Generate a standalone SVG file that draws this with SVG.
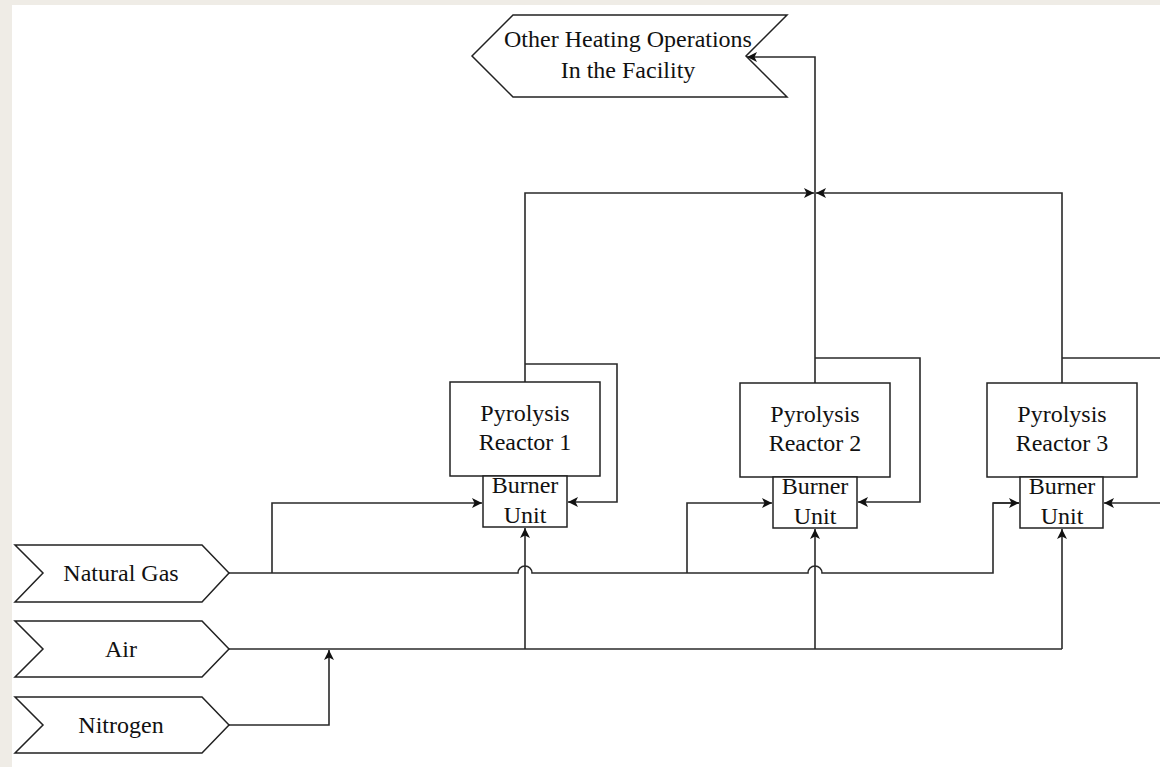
<svg xmlns="http://www.w3.org/2000/svg" width="1160" height="767" viewBox="0 0 1160 767">
<defs>
<marker id="arr" markerUnits="userSpaceOnUse" markerWidth="12" markerHeight="12" refX="10" refY="5" orient="auto">
<path d="M0,0 L10,5 L0,10 L2.5,5 z" fill="#111"/>
</marker>
<style>
.n{fill:#fff;stroke:#222;stroke-width:1.5}
.t{font-family:"Liberation Serif","Times New Roman",serif;font-size:24px;fill:#111;text-anchor:middle}
.c{fill:none;stroke:#2a2a2a;stroke-width:1.6}
.a{marker-end:url(#arr)}
</style>
</defs>
<rect x="0" y="0" width="1160" height="767" fill="#efece6"/>
<rect x="12" y="5" width="1148" height="762" fill="#fff"/>

<g id="connectors">
<path class="c" d="M229,573 H518 A7,7 0 0 1 532,573 H808 A7,7 0 0 1 822,573 H993 V503 H1019"/>
<path class="c a" d="M993,503 H1019"/>
<path class="c a" d="M272,573 V503 H482"/>
<path class="c a" d="M687,573 V503 H772"/>
<path class="c" d="M229,649 H1062"/>
<path class="c a" d="M525,649 V528"/>
<path class="c a" d="M815,649 V529"/>
<path class="c a" d="M1062,649 V529"/>
<path class="c a" d="M229,725 H329 V650"/>
<path class="c a" d="M525,382 V193 H814"/>
<path class="c a" d="M1062,383 V193 H816"/>
<path class="c a" d="M815,383 V57 H747"/>
<path class="c a" d="M525,364 H617 V502 H568"/>
<path class="c a" d="M815,358 H920 V502 H858"/>
<path class="c" d="M1062,358 H1160"/>
<path class="c a" d="M1160,503 H1104"/>
</g>

<g id="other-heating">
<polygon class="n" points="472,56 513,15 787,15 746,56 787,97 513,97"/>
<text class="t" x="628" y="47">Other Heating Operations</text>
<text class="t" x="628" y="78">In the Facility</text>
</g>

<g id="reactor1">
<rect class="n" x="450" y="382" width="150" height="94"/>
<text class="t" x="525" y="421">Pyrolysis</text>
<text class="t" x="525" y="450">Reactor 1</text>
</g>
<g id="burner1">
<rect class="n" x="483" y="476" width="84" height="51"/>
<text class="t" x="525" y="493">Burner</text>
<text class="t" x="525" y="523">Unit</text>
</g>

<g id="reactor2">
<rect class="n" x="740" y="383" width="150" height="94"/>
<text class="t" x="815" y="422">Pyrolysis</text>
<text class="t" x="815" y="451">Reactor 2</text>
</g>
<g id="burner2">
<rect class="n" x="773" y="477" width="84" height="51"/>
<text class="t" x="815" y="494">Burner</text>
<text class="t" x="815" y="524">Unit</text>
</g>

<g id="reactor3">
<rect class="n" x="987" y="383" width="150" height="94"/>
<text class="t" x="1062" y="422">Pyrolysis</text>
<text class="t" x="1062" y="451">Reactor 3</text>
</g>
<g id="burner3">
<rect class="n" x="1020" y="477" width="83" height="51"/>
<text class="t" x="1062" y="494">Burner</text>
<text class="t" x="1062" y="524">Unit</text>
</g>

<g id="natural-gas">
<polygon class="n" points="15,545 202,545 229,573 202,602 15,602 43,573"/>
<text class="t" x="121" y="581">Natural Gas</text>
</g>
<g id="air">
<polygon class="n" points="15,621 202,621 229,649 202,677 15,677 43,649"/>
<text class="t" x="121" y="657">Air</text>
</g>
<g id="nitrogen">
<polygon class="n" points="15,697 202,697 229,725 202,753 15,753 43,725"/>
<text class="t" x="121" y="733">Nitrogen</text>
</g>
</svg>
